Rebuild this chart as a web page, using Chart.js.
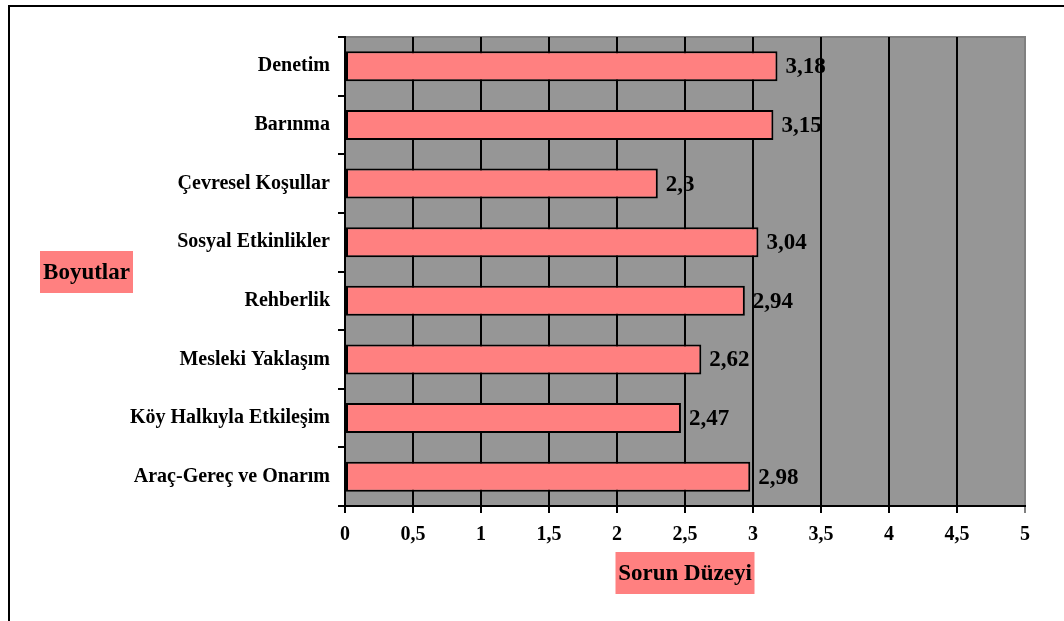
<!DOCTYPE html>
<html>
<head>
<meta charset="utf-8">
<script src="https://cdn.jsdelivr.net/npm/chart.js@4"></script>
<style>
html,body{margin:0;padding:0;background:#fff;}
#wrap{width:1064px;height:621px;position:relative;}
</style>
</head>
<body>
<div id="wrap"><canvas id="c" width="1064" height="621"></canvas></div>
<script>
const categories = ['Denetim','Barınma','Çevresel Koşullar','Sosyal Etkinlikler','Rehberlik','Mesleki Yaklaşım','Köy Halkıyla Etkileşim','Araç-Gereç ve Onarım'];
const values = [3.18, 3.15, 2.3, 3.04, 2.94, 2.62, 2.47, 2.98];
const valueLabels = ['3,18','3,15','2,3','3,04','2,94','2,62','2,47','2,98'];
const xTickLabels = ['0','0,5','1','1,5','2','2,5','3','3,5','4','4,5','5'];
const yTitle = 'Boyutlar';
const xTitle = 'Sorun Düzeyi';

const FONT = "'Liberation Serif','Times New Roman',serif";
const SALMON = '#FF8080';
const PLOT_BG = '#969696';

const decorPlugin = {
  id: 'decor',
  beforeDraw(chart) {
    const ctx = chart.ctx, a = chart.chartArea;
    ctx.save();
    ctx.fillStyle = '#fff';
    ctx.fillRect(0, 0, chart.width, chart.height);
    ctx.strokeStyle = '#000';
    ctx.lineWidth = 2;
    ctx.beginPath();
    ctx.moveTo(9, chart.height);
    ctx.lineTo(9, 6);
    ctx.lineTo(chart.width, 6);
    ctx.stroke();
    ctx.fillStyle = PLOT_BG;
    ctx.fillRect(a.left, a.top, a.right - a.left, a.bottom - a.top);
    ctx.strokeStyle = '#808080';
    ctx.lineWidth = 2;
    ctx.beginPath();
    ctx.moveTo(a.left, a.top);
    ctx.lineTo(a.right, a.top);
    ctx.lineTo(a.right, a.bottom);
    ctx.stroke();
    ctx.restore();
  },
  afterDatasetsDraw(chart) {
    const ctx = chart.ctx;
    const meta = chart.getDatasetMeta(0);
    ctx.save();
    ctx.fillStyle = '#000';
    ctx.font = 'bold 23px ' + FONT;
    ctx.textAlign = 'left';
    ctx.textBaseline = 'middle';
    meta.data.forEach((bar, i) => {
      ctx.fillText(valueLabels[i], bar.x + 8, bar.y + 1);
    });
    ctx.restore();
  },
  afterDraw(chart) {
    const ctx = chart.ctx, a = chart.chartArea;
    ctx.save();
    ctx.font = 'bold 23px ' + FONT;
    ctx.textAlign = 'center';
    ctx.textBaseline = 'middle';
    ctx.fillStyle = SALMON;
    ctx.fillRect(40, 251, 93, 42);
    ctx.fillStyle = '#000';
    ctx.fillText(yTitle, 86.5, 273);
    const cx = (a.left + a.right) / 2;
    ctx.fillStyle = SALMON;
    ctx.fillRect(cx - 69.5, 552, 139, 42);
    ctx.fillStyle = '#000';
    ctx.fillText(xTitle, cx, 574);
    ctx.restore();
  }
};

new Chart(document.getElementById('c'), {
  type: 'bar',
  data: {
    labels: categories,
    datasets: [{
      data: values,
      backgroundColor: SALMON,
      borderColor: '#000',
      borderWidth: 2,
      borderSkipped: false,
      barPercentage: 0.51,
      categoryPercentage: 1
    }]
  },
  options: {
    indexAxis: 'y',
    responsive: false,
    animation: false,
    events: [],
    layout: { padding: { top: 37, right: 39, left: 0, bottom: 0 } },
    plugins: { legend: { display: false }, tooltip: { enabled: false }, title: { display: false } },
    scales: {
      x: {
        type: 'linear',
        min: 0, max: 5,
        afterFit(scale) { scale.height = 115; },
        afterBuildTicks(scale) {
          scale.ticks = xTickLabels.map((t, i) => ({ value: i * 0.5 }));
        },
        ticks: {
          callback: (v, i) => xTickLabels[i],
          font: { family: FONT, size: 20, weight: 'bold' },
          color: '#000',
          padding: 10,
          maxRotation: 0,
          autoSkip: false
        },
        grid: {
          color: (ctx) => (ctx.tick && ctx.tick.value === 5) ? '#808080' : '#000',
          lineWidth: 2,
          tickLength: 7,
          drawTicks: true
        },
        border: { display: true, color: '#000', width: 2 }
      },
      y: {
        afterFit(scale) { scale.width = 345; },
        ticks: {
          font: { family: FONT, size: 20, weight: 'bold' },
          color: '#000',
          padding: 8,
          autoSkip: false
        },
        grid: {
          offset: true,
          drawOnChartArea: false,
          drawTicks: true,
          tickLength: 7,
          color: '#000',
          lineWidth: 2
        },
        border: { display: true, color: '#000', width: 2 }
      }
    }
  },
  plugins: [decorPlugin]
});
</script>
</body>
</html>
